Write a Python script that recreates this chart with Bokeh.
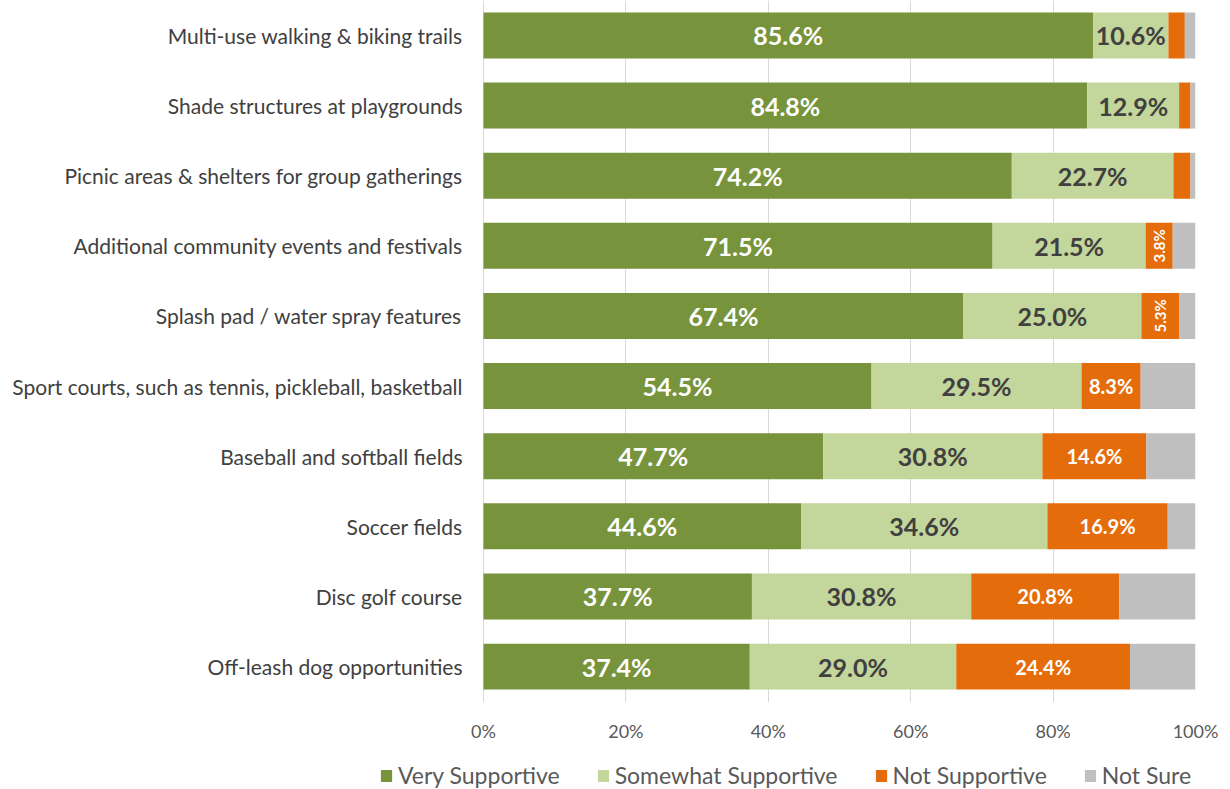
import numpy as np
from bokeh.plotting import figure
from bokeh.layouts import column
from bokeh.models import ColumnDataSource, Range1d, FixedTicker, Legend, LegendItem
from bokeh.core.properties import value
from bokeh.embed import file_html
from bokeh.resources import INLINE

categories = [
    "Multi-use walking & biking trails",
    "Shade structures at playgrounds",
    "Picnic areas & shelters for group gatherings",
    "Additional community events and festivals",
    "Splash pad / water spray features",
    "Sport courts, such as tennis, pickleball, basketball",
    "Baseball and softball fields",
    "Soccer fields",
    "Disc golf course",
    "Off-leash dog opportunities",
]
very_supportive = [85.6, 84.8, 74.2, 71.5, 67.4, 54.5, 47.7, 44.6, 37.7, 37.4]
somewhat_supportive = [10.6, 12.9, 22.7, 21.5, 25.0, 29.5, 30.8, 34.6, 30.8, 29.0]
not_supportive = [2.3, 1.6, 2.4, 3.8, 5.3, 8.3, 14.6, 16.9, 20.8, 24.4]
not_sure = [1.5, 0.7, 0.7, 3.2, 2.3, 7.7, 6.9, 3.9, 10.7, 9.2]
series_names = ["Very Supportive", "Somewhat Supportive", "Not Supportive", "Not Sure"]
x_ticks = [0, 20, 40, 60, 80, 100]
x_tick_labels = ["0%", "20%", "40%", "60%", "80%", "100%"]

colors = ["#77933C", "#C3D69B", "#E46C0A", "#BFBFBF"]
FONT = "Lato"

# layout geometry (pixels)
FRAME_LEFT = 379      # frame starts where legend starts
ZERO_PX = 483         # where 0% sits
HUNDRED_PX = 1195     # where 100% sits
px_per_unit = (HUNDRED_PX - ZERO_PX) / 100.0
x_start = -(ZERO_PX - FRAME_LEFT) / px_per_unit

p = figure(width=1230, height=744, x_range=Range1d(x_start, 100),
           y_range=Range1d(9.512, -0.498),
           output_backend="svg", toolbar_location=None,
           min_border_left=FRAME_LEFT, min_border_right=1230 - HUNDRED_PX,
           min_border_top=0, min_border_bottom=40)
p.outline_line_color = None
p.background_fill_color = "white"

ypos = list(range(len(categories)))
series = [very_supportive, somewhat_supportive, not_supportive, not_sure]
left = np.zeros(len(categories))
sources = []
segs = []
for vals, col, name in zip(series, colors, series_names):
    v = np.array(vals, dtype=float)
    right = left + v
    src = ColumnDataSource(dict(y=ypos, left=left.copy(), right=right.copy()))
    p.hbar(y="y", left="left", right="right", height=0.655, source=src,
           fill_color=col, line_color=None)
    sources.append(src)
    segs.append((left.copy(), right.copy(), v))
    left = right

def label_src(idx, cond):
    l, r, v = segs[idx]
    xs, ys, ts = [], [], []
    for i in range(len(categories)):
        if cond(v[i]):
            xs.append((l[i] + r[i]) / 2)
            ys.append(ypos[i])
            ts.append(f"{v[i]:.1f}%")
    return ColumnDataSource(dict(x=xs, y=ys, t=ts))

common = dict(x="x", y="y", text="t", text_align="center", text_baseline="middle",
              text_font=value(FONT), text_font_style="bold")
p.text(source=label_src(0, lambda v: True), text_color="white", text_font_size="25px", **common)
p.text(source=label_src(1, lambda v: True), text_color="#404040", text_font_size="25px", **common)
p.text(source=label_src(2, lambda v: v >= 7), text_color="white", text_font_size="20px", **common)
p.text(source=label_src(2, lambda v: 3 <= v < 7), text_color="white", text_font_size="15px",
       angle=np.pi / 2, **common)

p.xaxis.ticker = FixedTicker(ticks=x_ticks)
p.xaxis.major_label_overrides = {t: l for t, l in zip(x_ticks, x_tick_labels)}
p.xaxis.axis_line_color = None
p.xaxis.major_tick_line_color = None
p.xaxis.major_tick_out = 0
p.xaxis.major_tick_in = 0
p.xaxis.minor_tick_line_color = None
p.xaxis.major_label_standoff = 17
p.xaxis.major_label_text_font = FONT
p.xaxis.major_label_text_font_size = "18px"
p.xaxis.major_label_text_color = "#595959"

p.yaxis.ticker = FixedTicker(ticks=ypos)
p.yaxis.major_label_overrides = {i: c for i, c in zip(ypos, categories)}
p.yaxis.axis_line_color = None
p.yaxis.major_tick_line_color = None
p.yaxis.major_tick_out = 0
p.yaxis.major_tick_in = 0
p.yaxis.minor_tick_line_color = None
p.yaxis.major_label_standoff = 21 - (ZERO_PX - FRAME_LEFT)
p.yaxis.major_label_text_font = FONT
p.yaxis.major_label_text_font_size = "21px"
p.yaxis.major_label_text_color = "#404040"

p.xgrid.ticker = FixedTicker(ticks=x_ticks)
p.xgrid.grid_line_color = "#D9D9D9"
p.ygrid.grid_line_color = None

# legend strip below the chart (shares the bar sources, bars hidden there)
lg = figure(width=1230, height=45, x_range=Range1d(0, 1), y_range=Range1d(0, 1),
            output_backend="svg", toolbar_location=None,
            min_border_left=FRAME_LEFT, min_border_right=1230 - HUNDRED_PX,
            min_border_top=0, min_border_bottom=0)
lg.axis.visible = False
lg.grid.visible = False
lg.outline_line_color = None
items = []
for src, col, name in zip(sources, colors, series_names):
    r = lg.hbar(y="y", left="left", right="right", height=0.5, source=src,
                fill_color=col, line_color=None, visible=False)
    items.append(LegendItem(label=name, renderers=[r]))
legend = Legend(items=items, orientation="horizontal", location=(0, 0),
                glyph_width=14, glyph_height=15, label_standoff=5, spacing=36,
                label_text_font=FONT, label_text_font_size="23px", label_text_color="#595959",
                padding=0, margin=0, border_line_alpha=0, background_fill_alpha=0)
lg.add_layout(legend, "center")

layout = column(p, lg, spacing=0)
open("out.html", "w").write(file_html(layout, INLINE))
